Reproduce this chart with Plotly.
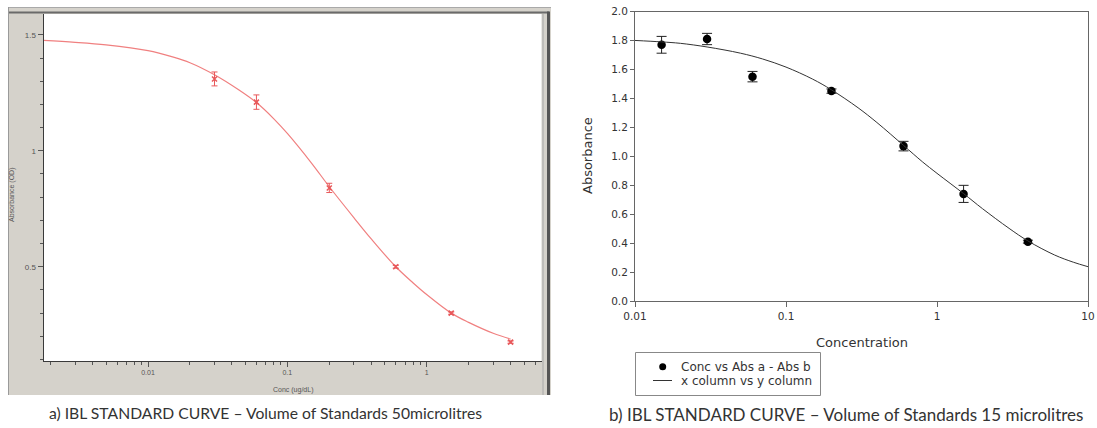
import plotly.graph_objects as go

W, H = 1097, 428

# ---- Panel a: 50 µL standards ----
a_conc = [0.03, 0.06, 0.2, 0.6, 1.5, 4]
a_abs = [1.31, 1.21, 0.84, 0.50, 0.30, 0.175]
a_err = [0.03, 0.031, 0.02, 0.006, 0.005, 0.005]
a_fit_conc = [0.00178, 0.003, 0.005, 0.01, 0.015, 0.02, 0.03, 0.045, 0.06, 0.08, 0.1,
              0.15, 0.2, 0.3, 0.4, 0.6, 0.8, 1, 1.5, 2, 3, 4]
a_fit_abs = [1.476, 1.468, 1.457, 1.432, 1.405, 1.38, 1.328, 1.262, 1.208, 1.138, 1.075,
             0.945, 0.845, 0.712, 0.62, 0.50, 0.43, 0.38, 0.30, 0.26, 0.213, 0.188]

# ---- Panel b: 15 µL standards ----
b_conc = [0.015, 0.03, 0.06, 0.2, 0.6, 1.5, 4]
b_abs = [1.77, 1.81, 1.55, 1.45, 1.07, 0.74, 0.41]
b_err = [0.058, 0.039, 0.036, 0.015, 0.033, 0.059, 0.01]
b_fit_conc = [0.01, 0.015, 0.02, 0.03, 0.05, 0.07, 0.1, 0.15, 0.2, 0.3, 0.4, 0.6, 0.8,
              1, 1.5, 2, 3, 4, 6, 8, 10]
b_fit_abs = [1.80, 1.79, 1.78, 1.755, 1.712, 1.672, 1.616, 1.533, 1.459, 1.335, 1.233, 1.075, 0.962,
             0.882, 0.742, 0.638, 0.502, 0.415, 0.318, 0.268, 0.237]

a_yticks = [0.5, 1, 1.5]
a_xticks = [0.01, 0.1, 1]
b_yticks = [0.0, 0.2, 0.4, 0.6, 0.8, 1.0, 1.2, 1.4, 1.6, 1.8, 2.0]
b_xticks = [0.01, 0.1, 1, 10]

legend_labels = ["Conc vs Abs a - Abs b", "x column vs y column"]


def px(x):
    return x / W


def py(y):
    return 1 - y / H


RED = "#e8585a"
fig = go.Figure()

fig.add_trace(go.Scatter(
    x=a_fit_conc, y=a_fit_abs, mode="lines", line=dict(color="#f08080", width=1.2, shape="spline"),
    xaxis="x", yaxis="y", showlegend=False, hoverinfo="skip"))
fig.add_trace(go.Scatter(
    x=a_conc, y=a_abs, mode="markers",
    marker=dict(symbol="x-thin-open", size=5, line=dict(color=RED, width=1.5), color=RED),
    error_y=dict(type="data", array=a_err, color=RED, thickness=1, width=3),
    xaxis="x", yaxis="y", showlegend=False))

fig.add_trace(go.Scatter(
    x=b_conc, y=b_abs, mode="markers", name=legend_labels[0],
    marker=dict(symbol="circle", size=8.5, color="black"),
    error_y=dict(type="data", array=b_err, color="#222", thickness=1, width=5),
    xaxis="x2", yaxis="y2", showlegend=False))
fig.add_trace(go.Scatter(
    x=b_fit_conc, y=b_fit_abs, mode="lines", name=legend_labels[1],
    line=dict(color="#333", width=1, shape="spline"),
    xaxis="x2", yaxis="y2", showlegend=False))

# minor tick positions for the log axis of panel a
a_minor = [m * 10 ** e for e in range(-3, 1) for m in range(2, 10)]

SANS = "Liberation Sans, Arial"
WIDE = "DejaVu Sans"
small = dict(family=SANS, size=7, color="#555")
fig.update_layout(
    width=W, height=H, margin=dict(l=0, r=0, t=0, b=0),
    paper_bgcolor="white", plot_bgcolor="white", showlegend=False,
    font=dict(family=SANS, color="#333"),
    xaxis=dict(type="log", range=[-2.75, 0.824], domain=[px(43.5), px(541.5)], anchor="y",
               automargin=False,
               showline=True, linecolor="#3a3a3a", linewidth=1, showgrid=False, zeroline=False,
               ticks="outside", ticklen=5, tickcolor="#555", tickvals=a_xticks,
               ticktext=["0.01", "0.1", "1"], tickfont=small,
               minor=dict(tickvals=a_minor, ticks="outside", ticklen=3, tickcolor="#555")),
    yaxis=dict(range=[0.0935, 1.59], domain=[py(361), py(14)], anchor="x",
               automargin=False,
               showline=True, linecolor="#3a3a3a", linewidth=1, showgrid=False, zeroline=False,
               ticks="outside", ticklen=5, tickcolor="#555", tickvals=a_yticks,
               ticktext=["0.5", "1", "1.5"], tickfont=dict(family=SANS, size=8, color="#555"),
               minor=dict(dtick=0.1, tick0=0, ticks="outside", ticklen=3, tickcolor="#555")),
    xaxis2=dict(type="log", range=[-2, 1], domain=[px(635), px(1088)], anchor="y2",
                automargin=False,
                showline=True, mirror=True, linecolor="#666", linewidth=1, showgrid=False, zeroline=False,
                ticks="outside", ticklen=5, tickcolor="#666", tickvals=b_xticks,
                ticktext=["0.01", "0.1", "1", "10"], tickfont=dict(family=WIDE, size=10.5, color="#333")),
    yaxis2=dict(range=[0, 2], domain=[py(301), py(11.5)], anchor="x2",
                automargin=False,
                showline=True, mirror=True, linecolor="#666", linewidth=1, showgrid=False, zeroline=False,
                ticks="outside", ticklen=4, tickcolor="#666", tickvals=b_yticks,
                tickformat=".1f", tickfont=dict(family=WIDE, size=10.5, color="#333")),
)

# grey window frame around panel a, plus the key box of panel b
shapes = [
    dict(type="rect", xref="paper", yref="paper", x0=px(8), x1=px(551), y0=py(395), y1=py(7),
         fillcolor="#d5d2cb", line=dict(width=0), layer="below"),
    dict(type="rect", xref="paper", yref="paper", x0=px(43.5), x1=px(541.5), y0=py(361), y1=py(14),
         fillcolor="white", line=dict(width=0), layer="below"),
    dict(type="line", xref="paper", yref="paper", x0=px(8), x1=px(549), y0=py(12.5), y1=py(12.5),
         line=dict(color="#6a6a6a", width=2)),
    dict(type="line", xref="paper", yref="paper", x0=px(8), x1=px(551), y0=py(7.5), y1=py(7.5),
         line=dict(color="#a9a9a9", width=1)),
    dict(type="line", xref="paper", yref="paper", x0=px(548.5), x1=px(548.5), y0=py(395), y1=py(11.5),
         line=dict(color="#555", width=3)),
    dict(type="line", xref="paper", yref="paper", x0=px(543), x1=px(543), y0=py(395), y1=py(14),
         line=dict(color="#a8a8a8", width=1)),
    dict(type="line", xref="paper", yref="paper", x0=px(8.5), x1=px(8.5), y0=py(395), y1=py(7),
         line=dict(color="#9a9a9a", width=1)),
    # key
    dict(type="rect", xref="paper", yref="paper", x0=px(635.5), x1=px(820.5), y0=py(395.5), y1=py(352.5),
         fillcolor="white", line=dict(color="#888", width=1)),
    dict(type="circle", xref="paper", yref="paper", x0=px(659.2), x1=px(666.2), y0=py(370.2), y1=py(363.2),
         fillcolor="black", line=dict(color="black", width=0)),
    dict(type="line", xref="paper", yref="paper", x0=px(653), x1=px(672), y0=py(380.5), y1=py(380.5),
         line=dict(color="#333", width=1)),
]
fig.update_layout(shapes=shapes)


def label(text, x, y, size, family, color="#333", xanchor="center", angle=0):
    return dict(text=text, x=px(x), y=py(y), xref="paper", yref="paper", xanchor=xanchor,
                yanchor="middle", textangle=angle, showarrow=False,
                font=dict(family=family, size=size, color=color))


CAP = "Lato, Open Sans"
annotations = [
    label("Absorbance (OD)", 12, 195, 7, SANS, "#555", angle=-90),
    label("Conc (ug/dL)", 292.5, 390, 7, SANS, "#555"),
    label("Absorbance", 588, 156, 13, WIDE, angle=-90),
    label("Concentration", 861.5, 342, 13, WIDE),
    label(legend_labels[0], 679, 367, 12, WIDE, xanchor="left"),
    label(legend_labels[1], 679, 381, 12, WIDE, xanchor="left"),
    label("a) IBL STANDARD CURVE \u2013 Volume of Standards 50microlitres", 47, 413, 15.7, CAP, xanchor="left"),
    label("b) IBL STANDARD CURVE \u2013 Volume of Standards 15 microlitres", 607, 414, 17, CAP, xanchor="left"),
]
fig.update_layout(annotations=annotations)

fig.write_html("out.html")
